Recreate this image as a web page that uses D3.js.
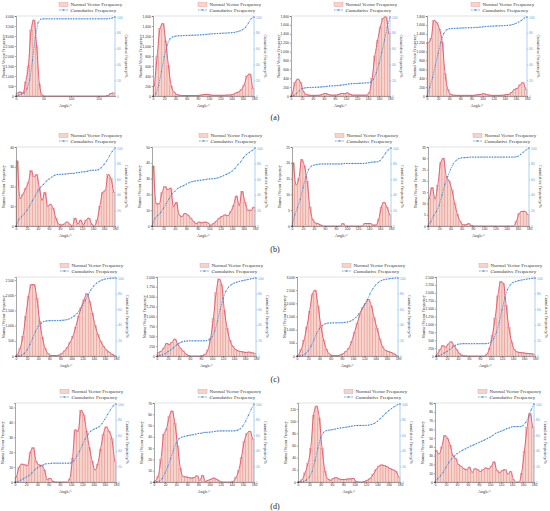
<!DOCTYPE html>
<html>
<head>
<meta charset="utf-8">
<script src="https://cdn.jsdelivr.net/npm/d3@7"></script>
<style>
body { margin: 0; background: #fff; }
svg { display: block; font-family: "Liberation Serif", "Times New Roman", serif; }
</style>
</head>
<body>
<svg id="fig" width="550" height="511"></svg>
<script>
// bin starts (5 degree bins), angle 0..180
const binStarts = [0,5,10,15,20,25,30,35,40,45,50,55,60,65,70,75,80,85,
                   90,95,100,105,110,115,120,125,130,135,140,145,150,155,160,165,170,175];

// normal vector frequency per bin, one array per panel
const a1Freq = [150,200,150,700,1500,3300,3800,2500,600,50, 0,0,0,0,0,0,0,0,0,0, 0,0,0,0,0,0,0,0,0,0, 0,0,0,30,120,150];
const a2Freq = [200,800,1350,1450,1100,600,200,80,30,15, 10,10,10,10,10,10,15,20,30,30, 20,15,15,15,15,15,20,20,30,60, 80,130,220,400,440,150];
const a3Freq = [40,300,380,300,100,40,20,15,15,15, 20,40,60,40,20,20,20,40,60,50, 70,40,20,20,20,20,20,20,80,400, 900,1250,1550,1750,1780,1400];
const a4Freq = [1200,1300,1700,1650,1500,1200,500,150,40,20, 15,15,15,15,15,15,15,20,30,40, 50,30,20,15,15,15,15,20,30,40, 80,150,170,250,300,150];

const b1Freq = [33,14,16,19,22,28,25,26,19,13, 17,10,11,9,4,1,0.5,1,2,1, 0,4,1,3,0.5,3,4,1,0,3, 10,17,18,26,24,17];
const b2Freq = [38,14,14,21,25,23,24,12,15,7, 6,8,7,5,3,1.5,2.5,2,2.5,2, 0.5,1.5,3,5,6,7,6.5,9,13,19, 13,22,15,10,10,12];
const b3Freq = [20,13,15,21,19,14,6,2,1,0.7, 0.3,0,0,0,0,0,0,0,0.8,0, 0,0,0,0,0,0,0.8,0.8,0.8,0.3, 0.3,2,6,7.5,6,3.5];
const b4Freq = [12,17,12,18,28,30,22,20,16,10, 5,2,0.5,0.5,1,0.2,0,0,0,0, 0,0,0,0,0,0,0,0,0,0, 0,2,5.5,6.5,6.5,5];

const c1Freq = [40,250,650,1300,1950,2350,2350,1900,1150,600, 250,80,20,15,15,30,80,170,280,450, 650,950,1300,1600,1850,2050,1800,1400,1000,700, 480,320,200,130,60,20];
const c2Freq = [80,120,200,320,290,350,430,300,200,130, 50,10,0,0,0,0,10,40,150,450, 950,1600,1950,1800,1150,700,400,250,170,130, 110,100,90,100,80,70];
const c3Freq = [30,250,600,1100,1700,2350,2500,1900,1150,600, 250,80,25,10,10,40,90,180,300,550, 900,1250,1600,1850,2000,2150,1900,1450,1050,650, 350,220,170,140,80,30];
const c4Freq = [60,200,330,280,380,450,340,200,80,25, 5,0,0,0,0,0,0,0,60,250, 650,1200,1900,2350,2300,1600,900,450,200,130, 110,100,90,80,70,60];

const d1Freq = [3,10,12,11.5,11,20,23,14,11.5,11, 8,1.5,2.5,0.5,0,0,0,0,0,2, 16,35,34,48,45,34,23,14,8,12, 22,32,37,34,29,14];
const d2Freq = [1,5,20,42,47,58,63,52,32,12, 5,4.5,4,3.5,4,5.5,1.5,6,0.5,1.5, 2.5,3.5,2.5,1,0,0,0,0,0.5,4, 10,22,36,43,45,38];
const d3Freq = [1,4,15,30,55,110,125,105,55,18, 5,3,6,7,5,4,4,5,5,6, 1,0,0,1,3,6,12,20,26,28, 27,25,22,20,18,8];
const d4Freq = [36,32,40,53,50,42,30,27,20,18, 15,14,17,11,15,14,12,14,16,15, 18,23,13,11,13,14,9,12,3,0, 0,10,35,62,78,62];

const panelFreqs = [a1Freq, a2Freq, a3Freq, a4Freq, b1Freq, b2Freq, b3Freq, b4Freq,
                    c1Freq, c2Freq, c3Freq, c4Freq, d1Freq, d2Freq, d3Freq, d4Freq];

// left axis top value and tick step per panel
const yMaxes     = [4000, 1600, 1800, 1800, 40, 50, 25, 35, 2600, 2000, 3000, 2500, 53, 70, 130, 90];
const yTickSteps = [500, 200, 200, 200, 10, 10, 5, 5, 500, 250, 500, 250, 10, 10, 20, 10];
const xTickSteps = [50, 20, 20, 20, 20, 20, 20, 20, 20, 20, 20, 20, 20, 20, 20, 20];
const cumTicks = [0, 20, 40, 60, 80, 100];
const rowLabels = ["(a)", "(b)", "(c)", "(d)"];

// layout of the plot boxes (pixels)
const rowTop = [16, 147, 277, 403];
const rowBottom = [96, 226, 356, 482];
const rowLabelY = [120, 252, 382, 509];
const colEdges = [
    [[16, 115], [153, 254], [291, 390], [427, 527]],
    [[16, 115], [152, 255], [292, 391], [428, 529]],
    [[16, 116], [157, 256], [297, 398], [436, 535]],
    [[15, 116], [154, 254], [298, 400], [435, 534]]
];

const barFill = "#f7d4cb", barStroke = "#e3918c";
const curveColor = "#e4506c";
const cumColor = "#3f86dc";
const rightAxisColor = "#5fa6e4";

const svg = d3.select("#fig");

function drawPanel(p) {
    const row = Math.floor(p / 4), col = p % 4;
    const [left, right] = colEdges[row][col];
    const top = rowTop[row], bottom = rowBottom[row];
    const freq = panelFreqs[p];

    const x = d3.scaleLinear().domain([0, 180]).range([left, right]);
    const y = d3.scaleLinear().domain([0, yMaxes[p]]).range([bottom, top]);
    const yc = d3.scaleLinear().domain([0, 100]).range([bottom, top + 1]);

    const g = svg.append("g").attr("class", "panel-" + p);

    // bars
    g.selectAll("rect.bar")
        .data(freq)
        .join("rect")
        .attr("class", "bar")
        .attr("x", (d, i) => x(binStarts[i]))
        .attr("width", (d, i) => x(binStarts[i] + 5) - x(binStarts[i]))
        .attr("y", d => y(d))
        .attr("height", d => y(0) - y(d))
        .attr("fill", barFill)
        .attr("stroke", barStroke)
        .attr("stroke-width", 0.45);

    // smooth frequency curve
    const line = d3.line()
        .x((d, i) => x(binStarts[i] + 2.5))
        .y(d => y(d))
        .curve(d3.curveMonotoneX);
    g.append("path")
        .attr("d", line(freq))
        .attr("fill", "none")
        .attr("stroke", curveColor)
        .attr("stroke-width", 0.9);

    // cumulative frequency (%)
    const cum = d3.cumsum(freq);
    const total = cum[cum.length - 1];
    const cumPts = [{a: 0, v: 0}].concat(binStarts.map((b, i) => ({a: b + 5, v: cum[i] / total * 100})));
    const cline = d3.line().x(d => x(d.a)).y(d => yc(d.v));
    g.append("path")
        .attr("d", cline(cumPts))
        .attr("fill", "none")
        .attr("stroke", cumColor)
        .attr("stroke-width", 0.7)
        .attr("stroke-dasharray", "1.6,0.8");
    g.selectAll("circle.cum")
        .data(cumPts)
        .join("circle")
        .attr("class", "cum")
        .attr("cx", d => x(d.a))
        .attr("cy", d => yc(d.v))
        .attr("r", 0.65)
        .attr("fill", cumColor);

    // top border
    g.append("line")
        .attr("x1", left).attr("x2", right)
        .attr("y1", top).attr("y2", top)
        .attr("stroke", "#999").attr("stroke-width", 0.3);

    // axes
    const yTicks = d3.range(0, yMaxes[p] + 1e-6, yTickSteps[p]);
    const xTicks = d3.range(0, 181, xTickSteps[p]);

    const ax = g.append("g")
        .attr("transform", `translate(0,${bottom})`)
        .call(d3.axisBottom(x).tickValues(xTicks).tickSize(1.2).tickPadding(0.8));
    const ay = g.append("g")
        .attr("transform", `translate(${left},0)`)
        .call(d3.axisLeft(y).tickValues(yTicks).tickSize(1.2).tickPadding(0.8));
    const ar = g.append("g")
        .attr("transform", `translate(${right},0)`)
        .call(d3.axisRight(yc).tickValues(cumTicks).tickSize(1.2).tickPadding(0.8));
    ar.select(".domain").attr("d", `M0,${bottom}V${top}`);

    [ax, ay].forEach(a => {
        a.selectAll("path, line").attr("stroke", "#222").attr("stroke-width", 0.4);
        a.selectAll("text").attr("font-size", "3.4px").attr("font-family", null).attr("fill", "#333");
    });
    ar.selectAll("path, line").attr("stroke", rightAxisColor).attr("stroke-width", 0.5);
    ar.selectAll("text").attr("font-size", "3.4px").attr("font-family", null).attr("fill", rightAxisColor);

    // axis titles
    g.append("text")
        .attr("x", (left + right) / 2)
        .attr("y", bottom + 11)
        .attr("text-anchor", "middle")
        .attr("font-size", "4.2px")
        .attr("fill", "#333")
        .text("Angle/°");
    g.append("text")
        .attr("transform", `translate(${left - 11},${(top + bottom) / 2}) rotate(-90)`)
        .attr("text-anchor", "middle")
        .attr("font-size", "4.2px")
        .attr("fill", "#333")
        .text("Normal Vector Frequency");
    g.append("text")
        .attr("transform", `translate(${right + 9.5},${(top + bottom) / 2}) rotate(90)`)
        .attr("text-anchor", "middle")
        .attr("font-size", "4.2px")
        .attr("fill", "#333")
        .text("Cumulative Frequency/%");

    // legend
    const lg = g.append("g").attr("transform", `translate(${right - 56},${top})`);
    lg.append("rect")
        .attr("x", 0).attr("y", -13.5)
        .attr("width", 9).attr("height", 4)
        .attr("fill", barFill).attr("stroke", barStroke).attr("stroke-width", 0.4);
    lg.append("text")
        .attr("x", 11.5).attr("y", -9.8)
        .attr("font-size", "5px").attr("fill", "#333")
        .text("Normal Vector Frequency");
    lg.append("line")
        .attr("x1", 0).attr("x2", 9)
        .attr("y1", -6).attr("y2", -6)
        .attr("stroke", cumColor).attr("stroke-width", 0.7)
        .attr("stroke-dasharray", "1.6,0.8");
    lg.append("circle")
        .attr("cx", 4.5).attr("cy", -6).attr("r", 0.8)
        .attr("fill", cumColor);
    lg.append("text")
        .attr("x", 11.5).attr("y", -4.3)
        .attr("font-size", "5px").attr("fill", "#333")
        .text("Cumulative Frequency");
}

panelFreqs.forEach((f, p) => drawPanel(p));

// row letters
rowLabels.forEach((t, r) => {
    svg.append("text")
        .attr("x", 275)
        .attr("y", rowLabelY[r])
        .attr("text-anchor", "middle")
        .attr("font-size", "8px")
        .attr("fill", "#222")
        .text(t);
});
</script>
</body>
</html>
